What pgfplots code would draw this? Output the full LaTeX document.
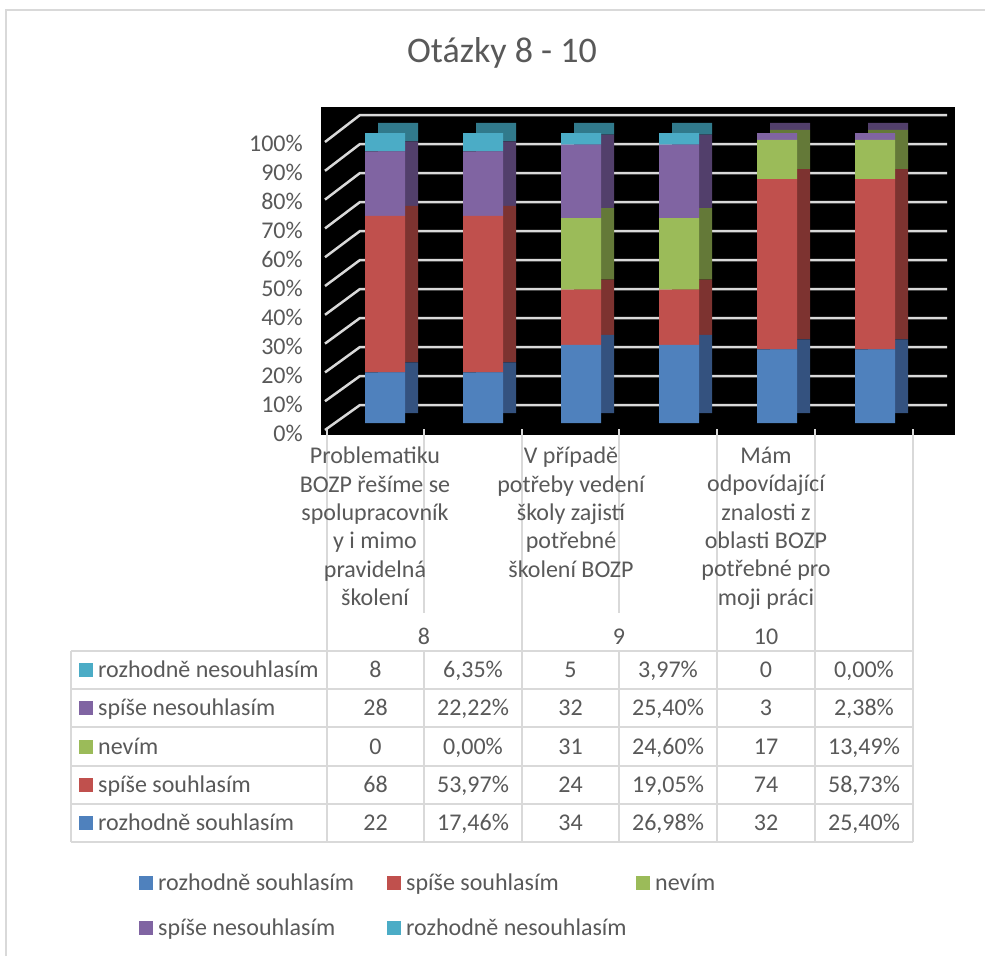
\documentclass[border=0pt]{standalone}
\usepackage{pgfplots}
\pgfplotsset{compat=1.18}
\usepackage{pgfplotstable}
\usepackage{fontspec}
\setmainfont{Carlito}
\definecolor{txt}{HTML}{595959}
\definecolor{gridc}{HTML}{D9D9D9}
\definecolor{cA}{HTML}{4F81BD}\definecolor{cAd}{HTML}{34527F}
\definecolor{cB}{HTML}{C0504D}\definecolor{cBd}{HTML}{7D3330}
\definecolor{cC}{HTML}{9BBB59}\definecolor{cCd}{HTML}{647938}
\definecolor{cD}{HTML}{8064A2}\definecolor{cDd}{HTML}{523F6B}
\definecolor{cE}{HTML}{4BACC6}\definecolor{cEd}{HTML}{317A8C}
\pgfplotstableread{
x off rs ss nv sn rn
0 3.45 17.46 53.97 0 22.22 6.35
1 3.45 17.46 53.97 0 22.22 6.35
2 3.45 26.98 19.05 24.60 25.40 3.97
3 3.45 26.98 19.05 24.60 25.40 3.97
4 3.45 25.40 58.73 13.49 2.38 0
5 3.45 25.40 58.73 13.49 2.38 0
}\data
\pgfplotsset{
  base/.style={anchor=south west, at={(336pt,-423pt)}, x=98pt, y=2.9pt,
    xmin=-0.5, xmax=5.5, ymin=0, ymax=100, clip=false,
    axis line style={draw=none}, major tick length=0pt, xtick=\empty,
    ybar stacked, bar width=40pt},
}
\newcommand{\tf}{\fontsize{24}{28.3}\selectfont}
\newcommand{\trow}[9]{%
  \fill[#2] (79,{-#1+7}) rectangle (93,{-#1-7});
  \node[anchor=base west] at (98,{-#1-7.5}) {#3};
  \node at (375.5,{-#1-7.5}) {#4};
  \node at (473,{-#1-7.5}) {#5};
  \node at (570.5,{-#1-7.5}) {#6};
  \node at (668,{-#1-7.5}) {#7};
  \node at (766,{-#1-7.5}) {#8};
  \node at (864,{-#1-7.5}) {#9};
}
\newcommand{\lkey}[4]{%
  \fill[#3] (#1,{-#2+7}) rectangle ({#1+14},{-#2-7});
  \node at ({#1+19},{-#2-7.5}) {#4};
}
\begin{document}
\begin{tikzpicture}[x=1pt,y=1pt]
\useasboundingbox (0,0) rectangle (985,-956);
\fill[white] (0,0) rectangle (985,-956);
\draw[gridc, line width=1.5pt] (6,-956) -- (6,-10) -- (985,-10);
\node[txt, font=\fontsize{36}{40}\selectfont] at (502,-53) {Otázky 8 - 10};
\fill[black] (321,-107) rectangle (955,-435);
\foreach \v in {0,10,...,100} {
  \draw[gridc, line width=2.5pt] (325,{-(430-2.88*\v)}) -- (360,{-(405-2.9*\v)}) -- (947,{-(405-2.9*\v)});
}
% back (side/top faces)
\begin{axis}[base, ytick=\empty, bar shift=13pt]
\addplot[fill=none, draw=none] table[x=x,y=off]{\data};
\addplot[fill=cAd, draw=none] table[x=x,y=rs]{\data};
\addplot[fill=cBd, draw=none] table[x=x,y=ss]{\data};
\addplot[fill=cCd, draw=none] table[x=x,y=nv]{\data};
\addplot[fill=cDd, draw=none] table[x=x,y=sn]{\data};
\addplot[fill=cEd, draw=none] table[x=x,y=rn]{\data};
\end{axis}
% front faces
\begin{axis}[base, ytick={0,10,...,100},
  /pgf/number format/assume math mode=true,
  yticklabel={\pgfmathprintnumber{\tick}\%},
  yticklabel style={text=txt, font=\tf, anchor=east, inner sep=0pt, xshift=-33pt, yshift=-10.5pt}]
\addplot[fill=cA, draw=none] table[x=x,y=rs]{\data};
\addplot[fill=cB, draw=none] table[x=x,y=ss]{\data};
\addplot[fill=cC, draw=none] table[x=x,y=nv]{\data};
\addplot[fill=cD, draw=none] table[x=x,y=sn]{\data};
\addplot[fill=cE, draw=none] table[x=x,y=rn]{\data};
\end{axis}
% table lines
\begin{scope}[gridc, line width=2pt]
\foreach \x in {327,522,717,815,913} \draw (\x,-429) -- (\x,-842);
\foreach \x in {424,619} {\draw (\x,-429) -- (\x,-613); \draw (\x,-651) -- (\x,-842);}
\draw (71,-651) -- (71,-842);
\foreach \y in {651,689,727,766,804,842} \draw (71,-\y) -- (913,-\y);
\end{scope}
% category labels
\begin{scope}[every node/.style={txt, font=\tf, align=center, anchor=north, inner sep=0pt}]
\node at (375,-447) {Problematiku\\BOZP řešíme se\\spolupracovník\\y i mimo\\pravidelná\\školení};
\node at (571,-447) {V případě\\potřeby vedení\\školy zajistí\\potřebné\\školení BOZP};
\node at (766,-447) {Mám\\odpovídající\\znalosti z\\oblasti BOZP\\potřebné pro\\moji práci};
\end{scope}
\begin{scope}[every node/.style={txt, font=\tf, anchor=base, inner sep=0pt}]
\node at (424,-644) {8};
\node at (619,-644) {9};
\node at (766,-644) {10};
\trow{670}{cE}{rozhodně nesouhlasím}{8}{6,35\%}{5}{3,97\%}{0}{0,00\%}
\trow{708}{cD}{spíše nesouhlasím}{28}{22,22\%}{32}{25,40\%}{3}{2,38\%}
\trow{746.5}{cC}{nevím}{0}{0,00\%}{31}{24,60\%}{17}{13,49\%}
\trow{785}{cB}{spíše souhlasím}{68}{53,97\%}{24}{19,05\%}{74}{58,73\%}
\trow{823}{cA}{rozhodně souhlasím}{22}{17,46\%}{34}{26,98\%}{32}{25,40\%}
\end{scope}
% legend
\begin{scope}[every node/.style={txt, font=\tf, anchor=base west, inner sep=0pt}]
\lkey{139}{883}{cA}{rozhodně souhlasím}
\lkey{387}{883}{cB}{spíše souhlasím}
\lkey{636}{883}{cC}{nevím}
\lkey{139}{928}{cD}{spíše nesouhlasím}
\lkey{387}{928}{cE}{rozhodně nesouhlasím}
\end{scope}
\end{tikzpicture}
\end{document}
